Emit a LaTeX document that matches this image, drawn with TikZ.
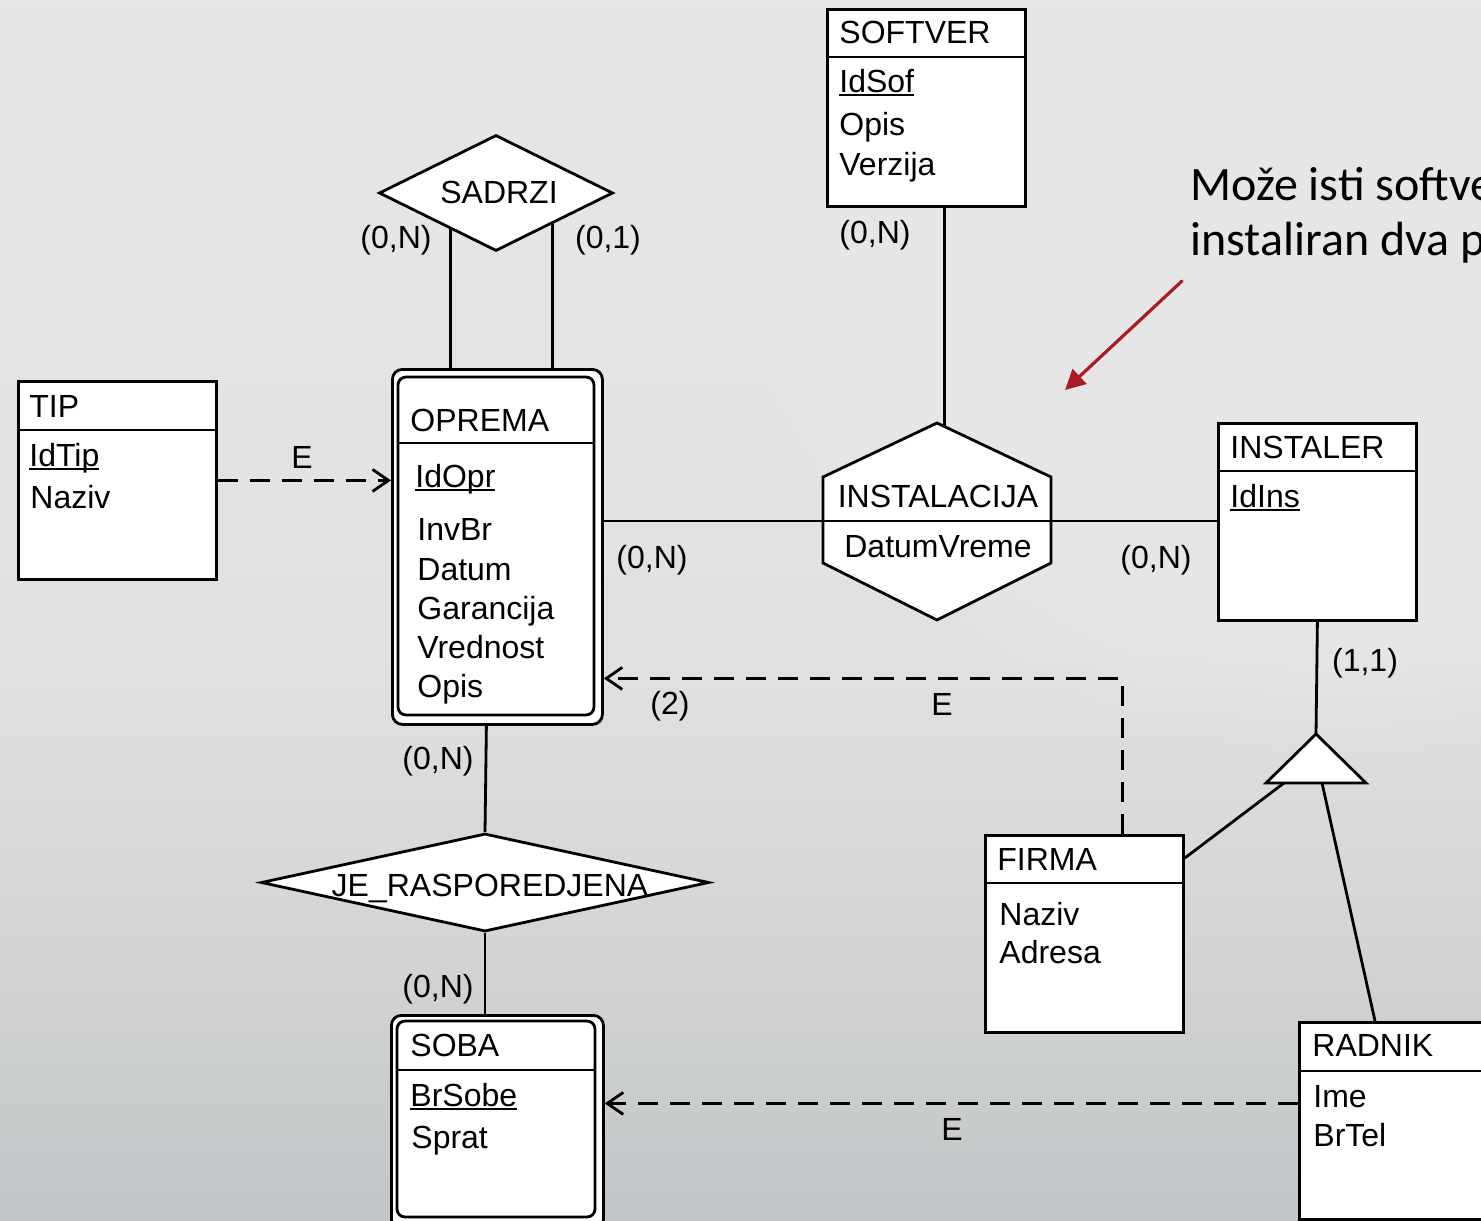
\documentclass[tikz,border=0pt]{standalone}
\usepackage{fontspec}
\setmainfont{Liberation Sans}
\newfontfamily\notefont{Carlito}
\usetikzlibrary{shapes.geometric,arrows.meta,calc}
\pgfdeclarelayer{back}
\pgfdeclarelayer{conn}
\pgfsetlayers{back,conn,main}
\definecolor{arrred}{RGB}{170,28,36}
\pgfdeclareverticalshading{bgvert}{100bp}{%
 rgb(0bp)=(0.765,0.776,0.784);
 rgb(25bp)=(0.765,0.776,0.784);
 rgb(30bp)=(0.79,0.8,0.805);
 rgb(38bp)=(0.835,0.84,0.845);
 rgb(48bp)=(0.878,0.881,0.885);
 rgb(62bp)=(0.893,0.895,0.898);
 rgb(75bp)=(0.902,0.904,0.906);
 rgb(100bp)=(0.902,0.904,0.906)}
\newcommand{\uln}[1]{\setbox0\hbox{#1}\rlap{\rule[-2.2pt]{\wd0}{1pt}}\box0}
\tikzset{
 lw/.style={line width=1.4pt},
 entbox/.style={draw, lw, fill=white, inner sep=0pt, anchor=north west},
 txt/.style={font=\fontsize{16}{19}\selectfont, inner sep=0pt},
 attr/.style={txt, anchor=base west},
 dashconn/.style={lw, dash pattern=on 10pt off 6pt, -{Straight Barb[length=8pt,width=11pt]}},
 reldia/.style={diamond, draw, lw, fill=white, inner sep=0pt},
}
\begin{document}
\begin{tikzpicture}[x=0.5pt,y=-0.5pt]
\useasboundingbox (0,0) rectangle (1481,1220);
\begin{pgfonlayer}{back}
\begin{scope}
\clip (0,0) rectangle (1481,1220);
\shade[shading=bgvert] (0,0) rectangle (1481,1220);
\foreach \r in {650,625,...,150}
  \fill[white, fill opacity=0.04] (1350,100) circle[radius=\r];
\end{scope}
\end{pgfonlayer}

% SOFTVER
\node[entbox, minimum width=99pt, minimum height=98.5pt] (sof) at (826,8) {};
\draw[lw] (826,57) -- (1024,57);
\node[attr] (sofT) at (839,44) {SOFTVER};
\node[attr] (sof1) at (839,92) {\uln{IdSof}};
\node[attr] (sof2) at (839,135) {Opis};
\node[attr] (sof3) at (839,175) {Verzija};

% TIP
\node[entbox, minimum width=99pt, minimum height=99pt] (tip) at (17,380) {};
\draw[lw] (17,430) -- (215,430);
\node[attr] (tipT) at (29,417) {TIP};
\node[attr] (tip1) at (29,466) {\uln{IdTip}};
\node[attr] (tip2) at (30,508) {Naziv};

% OPREMA
\node[entbox, rounded corners=5pt, minimum width=105pt, minimum height=177.5pt] (opr) at (391,368) {};
\draw[lw, rounded corners=4pt] (398,377) rectangle (594,715);
\draw[lw] (398,443) -- (594,443);
\node[attr] (oprT) at (410,431) {OPREMA};
\node[attr] (opr1) at (415,487) {\uln{IdOpr}};
\node[attr] (opr2) at (417,540) {InvBr};
\node[attr] (opr3) at (417,580) {Datum};
\node[attr] (opr4) at (417,619) {Garancija};
\node[attr] (opr5) at (417,658) {Vrednost};
\node[attr] (opr6) at (417,697) {Opis};

% SADRZI
\node[reldia, minimum width=117pt, minimum height=58pt] (sad) at (496,193) {};
\node[txt, anchor=base] (sadT) at (499,203) {SADRZI};

% INSTALACIJA
\coordinate (ins) at (937,521);
\coordinate (insL) at (823,521);
\coordinate (insR) at (1051,521);
\draw[lw, fill=white] (937,423) -- (1051,477) -- (1051,563) -- (937,620) -- (823,563) -- (823,477) -- cycle;
\draw[lw] (insL) -- (insR);
\node[txt, anchor=base] (insT) at (938,507) {INSTALACIJA};
\node[txt, anchor=base] (insA) at (938,557) {DatumVreme};

% INSTALER
\node[entbox, minimum width=99pt, minimum height=98.5pt] (insr) at (1217,422) {};
\draw[lw] (1217,471) -- (1415,471);
\node[attr] (insrT) at (1230,458) {INSTALER};
\node[attr] (insr1) at (1230,507) {\uln{IdIns}};

% generalization triangle
\coordinate (gen) at (1316,734);
\coordinate (genL) at (1284,783);
\coordinate (genR) at (1322,783);
\draw[lw, fill=white] (gen) -- (1366,783) -- (1266,783) -- cycle;

% FIRMA
\node[entbox, minimum width=99pt, minimum height=98.5pt] (firma) at (984,834) {};
\draw[lw] (984,883) -- (1182,883);
\node[attr] (firmaT) at (997,870) {FIRMA};
\node[attr] (firma1) at (999,925) {Naziv};
\node[attr] (firma2) at (999,963) {Adresa};

% RADNIK
\node[entbox, minimum width=125pt, minimum height=98.5pt] (radnik) at (1298,1021) {};
\draw[lw] (1298,1071) -- (1548,1071);
\node[attr] (radT) at (1312,1056) {RADNIK};
\node[attr] (rad1) at (1313,1107) {Ime};
\node[attr] (rad2) at (1313,1146) {BrTel};

% JE_RASPOREDJENA
\node[reldia, minimum width=224pt, minimum height=49pt] (jer) at (485,882.5) {};
\node[txt, anchor=base] (jerT) at (490,896) {JE\_RASPOREDJENA};

% SOBA
\node[entbox, rounded corners=5pt, minimum width=106pt, minimum height=107pt] (soba) at (390,1014) {};
\draw[lw, rounded corners=4pt] (397,1021) rectangle (595,1217);
\draw[lw] (397,1070) -- (595,1070);
\node[attr] (sobaT) at (410,1056) {SOBA};
\node[attr] (soba1) at (410,1106) {\uln{BrSobe}};
\node[attr] (soba2) at (411,1148) {Sprat};

% cardinalities and labels
\node[txt] (eTip) at (302,457) {E};
\node[txt] (cSadL) at (396,240) {(0,N)};
\node[txt] (cSadR) at (608,240) {(0,1)};
\node[txt] (cSof) at (875,235) {(0,N)};
\node[txt] (cOprIns) at (652,560) {(0,N)};
\node[txt] (cInsr) at (1156,560) {(0,N)};
\node[txt] (c11) at (1365,663) {(1,1)};
\node[txt] (c2) at (670,706) {(2)};
\node[txt] (eFirma) at (942,704) {E};
\node[txt] (eRad) at (952,1129) {E};
\node[txt] (cOprJer) at (438,761) {(0,N)};
\node[txt] (cSobaJer) at (438,989) {(0,N)};

% note
\node[font=\notefont\fontsize{24}{29}\selectfont, anchor=base west, inner sep=0pt] (note1) at (1190,200) {Može isti softve};
\node[font=\notefont\fontsize{24}{29}\selectfont, anchor=base west, inner sep=0pt] (note2) at (1190,255) {instaliran dva p};
\coordinate (noteA) at (1182,281);
\coordinate (noteB) at (1065,390);
\draw[arrred, line width=1.6pt, line cap=round, -{Triangle[length=10pt,width=10pt]}] (noteA) -- (noteB);

% connectors
\begin{pgfonlayer}{conn}
\draw[lw] ([xshift=-23.5pt]opr.north) -- ([xshift=-23.5pt]opr.north |- sad.center);
\draw[lw] ([xshift=27.5pt]opr.north) -- ([xshift=27.5pt]opr.north |- sad.center);
\draw[lw] ([xshift=9pt]sof.south) -- ([xshift=9pt]sof.south |- ins);
\draw[lw] (opr.east |- ins) -- (insL);
\draw[lw] (insR) -- (insr.west |- ins);
\draw[lw] (insr.south) -- (gen);
\draw[lw] (genL) -- ([yshift=-12pt]firma.north east);
\draw[lw] (genR) -- ([xshift=38.5pt]radnik.north west);
\draw[lw] ([xshift=-5.5pt]opr.south) -- (jer.north);
\draw[lw] (jer.south) -- (jer.south |- soba.north);
\draw[dashconn] (tip.east) -- (tip.east -| opr.west);
\draw[dashconn] ([xshift=19pt]firma.north) |- ([yshift=-65.75pt]opr.east);
\draw[dashconn] ([yshift=8.75pt]radnik.west) -- ([yshift=8.75pt]radnik.west -| soba.east);
\end{pgfonlayer}
\end{tikzpicture}
\end{document}
